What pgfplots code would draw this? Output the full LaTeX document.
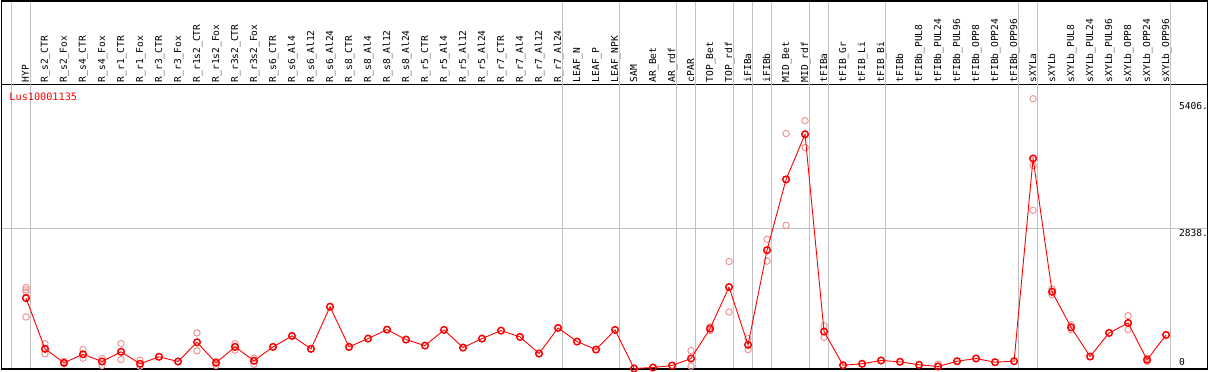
\documentclass[border=0pt]{standalone}
\usepackage{fontspec}
\usepackage{pgfplots}
\pgfplotsset{compat=1.18}
\newfontfamily\mono{DejaVu Sans Mono}
\definecolor{gridgray}{RGB}{192,192,192}
\definecolor{reppink}{RGB}{240,150,150}
\definecolor{mred}{RGB}{255,0,0}

\pgfplotstableread{
x y
0 1431
1 406
2 125
3 297
4 151
5 346
6 105
7 245
8 151
9 539
10 125
11 446
12 165
13 446
14 667
15 406
16 1256
17 446
18 613
19 794
20 593
21 472
22 788
23 432
24 613
25 774
26 647
27 312
28 828
29 553
30 392
31 788
32 10
33 30
34 70
35 211
36 814
37 1652
38 486
39 2396
40 3823
41 4734
42 754
43 76
44 105
45 171
46 145
47 84
48 50
49 157
50 211
51 137
52 157
53 4245
54 1558
55 840
56 251
57 727
58 928
59 185
60 687
}\meantable

\pgfplotstableread{
x y
0 1644
0 1598
0 1552
0 1049
1 513
1 306
2 151
2 105
3 392
3 217
4 211
4 70
5 513
5 191
6 177
6 56
9 728
9 366
10 151
10 70
11 513
11 378
12 217
12 96
35 372
35 56
36 774
36 850
37 2167
37 1150
38 613
38 392
39 2617
39 2175
40 4748
40 2898
41 5009
41 4466
42 874
42 639
48 96
53 5451
53 4104
53 3200
54 1612
54 1497
55 890
55 790
58 1075
58 794
59 217
59 151
}\reptable

\begin{document}
\begin{tikzpicture}
\begin{axis}[
  scale only axis, width=1206pt, height=284pt,
  xmin=-1.279, xmax=62.19, ymin=0, ymax=5728,
  clip mode=individual,
  axis line style={black, line width=1pt},
  xtick={0,...,60},
  xticklabels={HYP,R\_s2\_CTR,R\_s2\_Fox,R\_s4\_CTR,R\_s4\_Fox,R\_r1\_CTR,R\_r1\_Fox,R\_r3\_CTR,R\_r3\_Fox,R\_r1s2\_CTR,R\_r1s2\_Fox,R\_r3s2\_CTR,R\_r3s2\_Fox,R\_s6\_CTR,R\_s6\_Al4,R\_s6\_Al12,R\_s6\_Al24,R\_s8\_CTR,R\_s8\_Al4,R\_s8\_Al12,R\_s8\_Al24,R\_r5\_CTR,R\_r5\_Al4,R\_r5\_Al12,R\_r5\_Al24,R\_r7\_CTR,R\_r7\_Al4,R\_r7\_Al12,R\_r7\_Al24,LEAF\_N,LEAF\_P,LEAF\_NPK,SAM,AR\_Bet,AR\_rdf,cPAR,TOP\_Bet,TOP\_rdf,iFIBa,iFIBb,MID\_Bet,MID\_rdf,tFIBa,tFIB\_Gr,tFIB\_Li,tFIB\_Bi,tFIBb,tFIBb\_PUL8,tFIBb\_PUL24,tFIBb\_PUL96,tFIBb\_OPP8,tFIBb\_OPP24,tFIBb\_OPP96,sXYLa,sXYLb,sXYLb\_PUL8,sXYLb\_PUL24,sXYLb\_PUL96,sXYLb\_OPP8,sXYLb\_OPP24,sXYLb\_OPP96},
  xticklabel pos=upper,
  major tick length=0pt,
  ytick=\empty,
  xticklabel style={font=\mono\fontsize{9.6}{9.6}\selectfont, xshift=3pt, yshift=2.5pt, rotate=90, anchor=base west, inner sep=0pt},
]
% grid lines
\pgfplotsinvokeforeach{-0.76,0.24,28.24,31.24,34.24,35.24,37.24,38.24,39.24,41.24,42.24,45.24,52.24,53.24,60.24}{
  \draw[gridgray, line width=1pt] (axis cs:#1,0) -- (axis cs:#1,7423);
}
\draw[gridgray, line width=1pt] (axis cs:-1.279,2838) -- (axis cs:62.19,2838);
% header frame
\draw[black, line width=1.2pt] (rel axis cs:0,0) rectangle (rel axis cs:1,1.2958);
\path (rel axis cs:-0.0014,-0.0035) (rel axis cs:1.0011,1.2993);

\addplot[only marks, mark=o, mark size=3.2pt, draw=reppink, mark options={line width=1pt}] table[x=x,y=y] {\reptable};
\addplot[mred, line width=0.9pt, mark=o, mark size=3.3pt, mark options={line width=1.5pt}] table[x=x,y=y] {\meantable};

\node[anchor=west, inner sep=0pt, text=mred, font=\mono\fontsize{10.2}{10.2}\selectfont] at (axis cs:-0.879,5492) {Lus10001135};
\node[anchor=north west, inner sep=0pt, font=\mono\fontsize{9.6}{9.6}\selectfont] at (axis cs:60.67,5372) {5406.};
\node[anchor=north west, inner sep=0pt, font=\mono\fontsize{9.6}{9.6}\selectfont] at (axis cs:60.67,2828) {2838.};
\node[anchor=north west, inner sep=0pt, font=\mono\fontsize{9.6}{9.6}\selectfont] at (axis cs:60.67,212) {0};
\end{axis}
\end{tikzpicture}
\end{document}
